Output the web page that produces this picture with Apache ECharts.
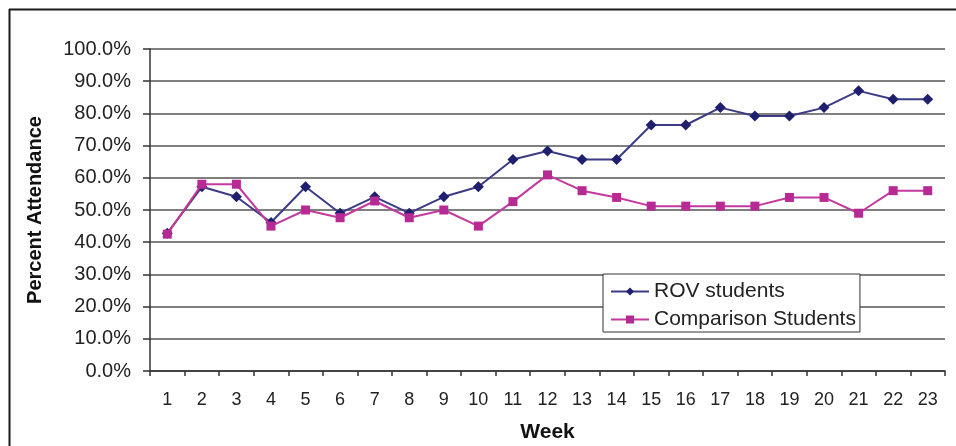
<!DOCTYPE html>
<html>
<head>
<meta charset="utf-8">
<script src="https://cdn.jsdelivr.net/npm/echarts@6/dist/echarts.min.js"></script>
<style>
html,body{margin:0;padding:0;background:#fff;}
#c{width:956px;height:446px;}
</style>
</head>
<body>
<div id="c"></div>
<script>
const weeks = ['1','2','3','4','5','6','7','8','9','10','11','12','13','14','15','16','17','18','19','20','21','22','23'];
const rovStudents = [42.8,57.2,54.1,46.1,57.2,49.0,54.1,49.0,54.1,57.2,65.7,68.3,65.7,65.7,76.4,76.4,81.8,79.2,79.2,81.8,87.0,84.4,84.4];
const comparisonStudents = [42.5,58.0,58.0,45.0,50.0,47.6,52.8,47.6,50.0,45.0,52.6,60.9,56.0,53.9,51.2,51.2,51.2,51.2,53.9,53.9,49.0,56.0,56.0];
const yTicks = [0,10,20,30,40,50,60,70,80,90,100];

const font = '"Liberation Sans", Arial, sans-serif';
const chart = echarts.init(document.getElementById('c'), null, {renderer:'canvas'});
chart.setOption({
  animation:false,
  backgroundColor:'#fff',
  grid:{left:150, right:11, top:49, bottom:75, containLabel:false, outerBoundsMode:'none'},
  legend:{
    orient:'vertical',
    left:603, top:274,
    padding:[7,4,2,7],
    itemGap:7,
    itemWidth:38, itemHeight:10,
    backgroundColor:'#fff',
    borderColor:'#333', borderWidth:1,
    textStyle:{fontFamily:font, fontSize:21, color:'#222', lineHeight:21},
    data:['ROV students','Comparison Students']
  },
  xAxis:{
    type:'category',
    data:weeks,
    boundaryGap:true,
    name:'Week',
    nameLocation:'middle',
    nameGap:51,
    nameTextStyle:{fontFamily:font, fontSize:21, fontWeight:'bold', color:'#111'},
    axisLine:{lineStyle:{color:'#333', width:1.5}},
    axisTick:{show:true, length:5, lineStyle:{color:'#333', width:1.5}},
    axisLabel:{fontFamily:font, fontSize:18, color:'#222', margin:20, interval:0},
    splitLine:{show:false}
  },
  yAxis:{
    type:'value',
    min:yTicks[0], max:yTicks[yTicks.length-1], interval:10,
    name:'Percent Attendance',
    nameLocation:'middle',
    nameGap:105,
    nameTextStyle:{fontFamily:font, fontSize:20, fontWeight:'bold', color:'#111'},
    axisLine:{show:true, lineStyle:{color:'#333', width:1.5}},
    axisTick:{show:true, length:7, lineStyle:{color:'#333', width:1.5}},
    axisLabel:{fontFamily:font, fontSize:20, color:'#222', margin:19,
      formatter:function(v){return v.toFixed(1)+'%';}},
    splitLine:{show:true, lineStyle:{color:'#555', width:1.6}}
  },
  graphic:[
    {type:'line', shape:{x1:9, y1:9.5, x2:956, y2:9.5}, style:{stroke:'#1a1a1a', lineWidth:2}, silent:true},
    {type:'line', shape:{x1:9.5, y1:9, x2:9.5, y2:446}, style:{stroke:'#1a1a1a', lineWidth:2}, silent:true}
  ],
  series:[
    {
      name:'ROV students',
      type:'line',
      data:rovStudents,
      symbol:'diamond',
      symbolSize:11,
      z:2,
      lineStyle:{color:'#3b3b86', width:2},
      itemStyle:{color:'#1f1f70'}
    },
    {
      name:'Comparison Students',
      type:'line',
      data:comparisonStudents,
      symbol:'rect',
      symbolSize:9,
      z:3,
      lineStyle:{color:'#c33a9e', width:2},
      itemStyle:{color:'#b82a93'}
    }
  ]
});
</script>
</body>
</html>
